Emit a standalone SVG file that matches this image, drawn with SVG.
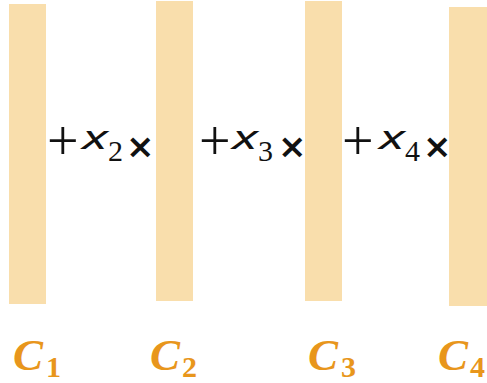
<svg xmlns="http://www.w3.org/2000/svg" width="487" height="383" viewBox="0 0 487 383">
<style>
.bar{fill:#F9DEAC}
.op{font-family:"Liberation Serif",serif;font-size:56px;fill:#111}
.var{font-family:"Noto Sans",sans-serif;font-style:italic;font-size:33px;fill:#111}
.sub{font-family:"Liberation Serif",serif;font-size:30px;fill:#111}
.tim{font-family:"DejaVu Sans",sans-serif;font-weight:bold;font-size:34px;fill:#111}
.lab{font-family:"Liberation Serif",serif;font-style:italic;font-weight:bold;font-size:45px;fill:#E8961C}
.lsub{font-family:"Liberation Serif",serif;font-weight:bold;font-size:30px;fill:#E8961C}
</style>
<g id="c1"><rect class="bar" x="9" y="4" width="37" height="300"/><text class="lab" x="13" y="370">C</text><text class="lsub" x="46" y="377">1</text></g>
<g id="c2"><rect class="bar" x="156" y="1" width="37" height="300"/><text class="lab" x="150" y="370">C</text><text class="lsub" x="182" y="377">2</text></g>
<g id="c3"><rect class="bar" x="305" y="1" width="37" height="300"/><text class="lab" x="308" y="370">C</text><text class="lsub" x="341" y="377">3</text></g>
<g id="c4"><rect class="bar" x="449" y="7" width="38" height="299"/><text class="lab" x="438" y="370">C</text><text class="lsub" x="470" y="377">4</text></g>
<g id="t2"><text class="op" x="47" y="160">+</text><text class="var" x="82" y="149" textLength="26" lengthAdjust="spacingAndGlyphs">x</text><text class="sub" x="108" y="161">2</text><text class="tim" x="126" y="158">×</text></g>
<g id="t3"><text class="op" x="199" y="160">+</text><text class="var" x="232" y="149" textLength="26" lengthAdjust="spacingAndGlyphs">x</text><text class="sub" x="258" y="161">3</text><text class="tim" x="278" y="158">×</text></g>
<g id="t4"><text class="op" x="342" y="160">+</text><text class="var" x="379" y="149" textLength="26" lengthAdjust="spacingAndGlyphs">x</text><text class="sub" x="405" y="161">4</text><text class="tim" x="423" y="158">×</text></g>
<g id="connectors"></g>
</svg>
